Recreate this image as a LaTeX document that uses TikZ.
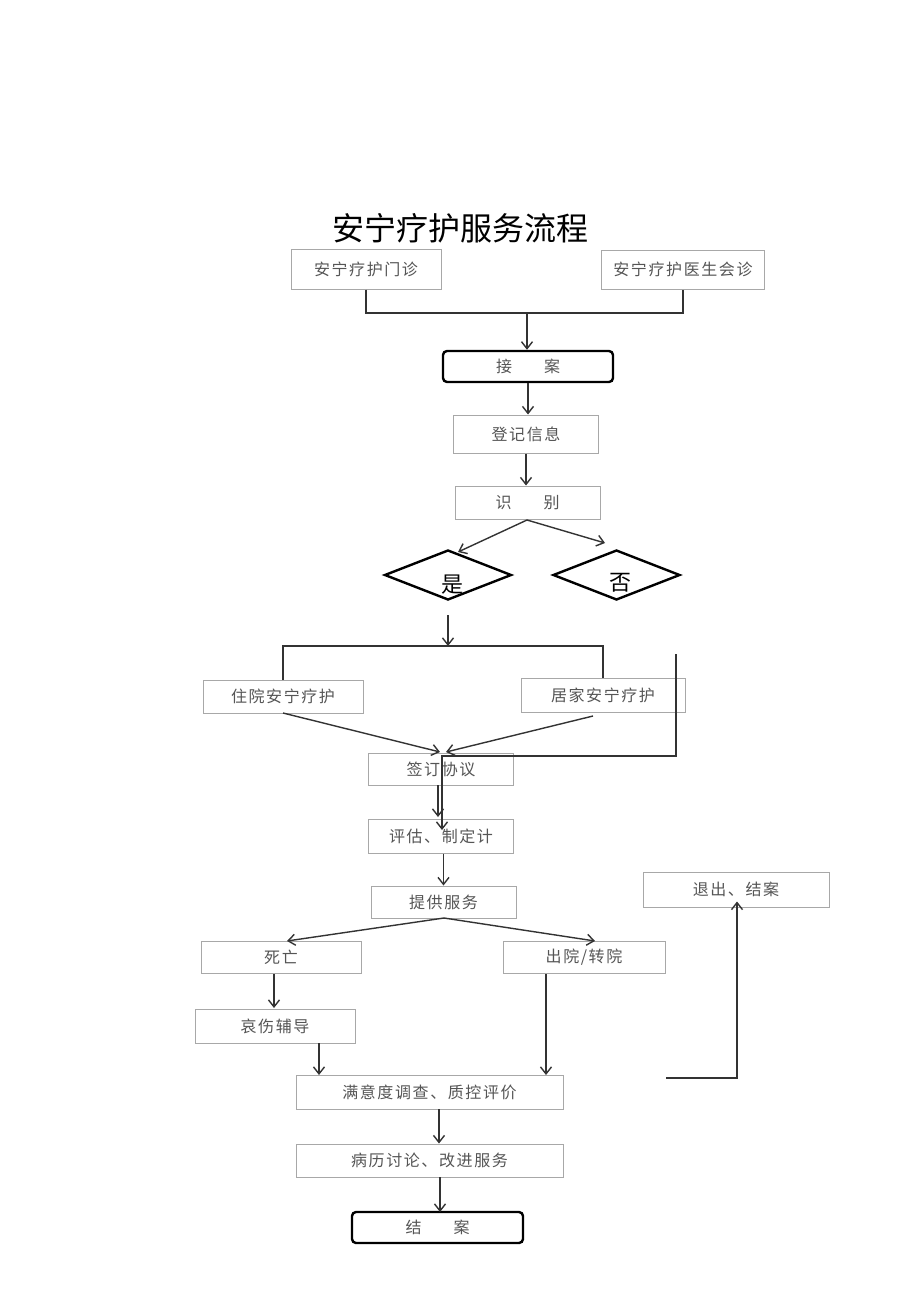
\documentclass[tikz,border=0pt]{standalone}
\usepackage{fontspec}
\setmainfont{Noto Sans CJK SC}
\newfontfamily\cjk{Noto Sans CJK SC}
\newfontfamily\cjkspaced[LetterSpace=10]{Noto Sans CJK SC}
\usetikzlibrary{arrows.meta,shapes.geometric}
\definecolor{linec}{HTML}{333333}
\definecolor{boxc}{HTML}{A8A8A8}
\definecolor{textc}{HTML}{555555}
\tikzset{
  pbox/.style={draw=boxc, line width=1pt, minimum width=#1, inner sep=0pt, font=\cjkspaced\fontsize{16}{16}\selectfont, text=textc},
  pbox/.default=145pt,
  tbox/.style={draw=black, line width=2.4pt, rounded corners=4pt, minimum width=#1, inner sep=0pt, font=\cjk\fontsize{16}{16}\selectfont, text=textc},
  dbox/.style={draw=black, line width=2.4pt, diamond, aspect=2.54, minimum width=127pt, minimum height=50pt, inner sep=0pt},
  conn/.style={draw=linec, line width=1.4pt},
  arr/.style={conn, -{Straight Barb[length=7pt,width=11pt]}},
}
\begin{document}
\begin{tikzpicture}[x=1pt,y=-1pt]
\useasboundingbox[fill=white] (0,0) rectangle (920,1301);
\node[font=\cjk\fontsize{32}{32}\selectfont] (title) at (460,228) {安宁疗护服务流程};

\node[pbox=150pt, minimum height=40pt] (menzhen) at (366,269) {安宁疗护门诊};
\node[pbox=163pt, minimum height=39pt] (huizhen) at (683,269.5) {安宁疗护医生会诊};
\node[tbox=170pt, minimum height=31pt] (jiean) at (528,366.5) {接\hspace{2em}案};
\node[pbox=145pt, minimum height=38pt] (dengji) at (526,434) {登记信息};
\node[pbox=145pt, minimum height=33pt] (shibie) at (527.5,502.5) {识\hspace{2em}别};
\node[dbox] (shi) at (448,575) {};
\node[font=\cjk\fontsize{22}{22}\selectfont] (shit) at (452,585) {是};
\node[dbox] (fou) at (616.5,575) {};
\node[font=\cjk\fontsize{22}{22}\selectfont] (fout) at (620,583) {否};
\node[pbox=160pt, minimum height=33pt] (zhuyuan) at (283,696.5) {住院安宁疗护};
\node[pbox=164pt, minimum height=34pt] (jujia) at (603,695) {居家安宁疗护};
\node[pbox=145pt, minimum height=32pt] (qianding) at (441,769) {签订协议};
\node[pbox=145pt, minimum height=34pt] (pinggu) at (441,836) {评估、制定计};
\node[pbox=145pt, minimum height=32pt] (tigong) at (443.5,902) {提供服务};
\node[pbox=160pt, minimum height=32pt] (siwang) at (281,957.5) {死亡};
\node[pbox=162pt, minimum height=32pt] (chuyuan) at (584,957.5) {出院/转院};
\node[pbox=160pt, minimum height=34pt] (aishang) at (275,1026) {哀伤辅导};
\node[pbox=267pt, minimum height=34pt] (manyi) at (429.5,1092) {满意度调查、质控评价};
\node[pbox=267pt, minimum height=33pt] (bingli) at (429.5,1160.5) {病历讨论、改进服务};
\node[tbox=171pt, minimum height=31pt] (jiean2) at (437.5,1227.5) {结\hspace{2em}案};
\node[pbox=186pt, minimum height=35pt] (tuichu) at (736,889.5) {退出、结案};

% top merge
\coordinate (j1) at (527,313);
\draw[conn] (menzhen.south) |- (j1) -| (huizhen.south);
\draw[arr] (j1) -- (jiean.north -| j1);
\draw[arr] (jiean.south) -- (dengji.north -| jiean.south);
\draw[arr] (dengji.south) -- (shibie.north -| dengji.south);
% split to diamonds
\coordinate (s0) at (527,520);
\coordinate (sl) at (458,552);
\coordinate (sr) at (605,543);
\draw[arr] (s0) -- (sl);
\draw[arr] (s0) -- (sr);
% yes branch
\coordinate (b1) at (448,615);
\coordinate (b2) at (448,646);
\draw[arr] (b1) -- (b2);
\draw[conn] (zhuyuan.north) |- (b2) -| (jujia.north);
\coordinate (q1) at (440,752);
\coordinate (q2) at (446,752);
\coordinate (zs) at (283,713);
\coordinate (js) at (593,716);
\draw[arr] (zs) -- (q1);
\draw[arr] (js) -- (q2);
% return line from no
\coordinate (r1) at (676,654);
\coordinate (r2) at (676,756);
\coordinate (r3) at (442,756);
\coordinate (r4) at (442,830);
\draw[arr] (r1) -- (r2) -- (r3) -- (r4);
\coordinate (p1) at (438,785);
\coordinate (p2) at (438,817);
\draw[arr] (p1) -- (p2);
\draw[arr] (pinggu.south -| tigong.north) -- (tigong.north);
% service split
\coordinate (t0) at (444,918);
\coordinate (tl) at (287,941);
\coordinate (tr) at (595,941);
\draw[arr] (t0) -- (tl);
\draw[arr] (t0) -- (tr);
\coordinate (d1) at (274,974);
\coordinate (d2) at (274,1008);
\draw[arr] (d1) -- (d2);
\coordinate (a1) at (319,1043);
\coordinate (a2) at (319,1075);
\draw[arr] (a1) -- (a2);
\coordinate (c1) at (546,974);
\coordinate (c2) at (546,1075);
\draw[arr] (c1) -- (c2);
\coordinate (m1) at (439,1109);
\coordinate (m2) at (439,1143.5);
\draw[arr] (m1) -- (m2);
\coordinate (k1) at (440,1177);
\coordinate (k2) at (440,1212);
\draw[arr] (k1) -- (k2);
% exit line
\coordinate (e1) at (666,1078);
\coordinate (e2) at (737,1078);
\draw[arr] (e1) -- (e2) -- ([yshift=6pt]tuichu.south -| e2);
\end{tikzpicture}
\end{document}
